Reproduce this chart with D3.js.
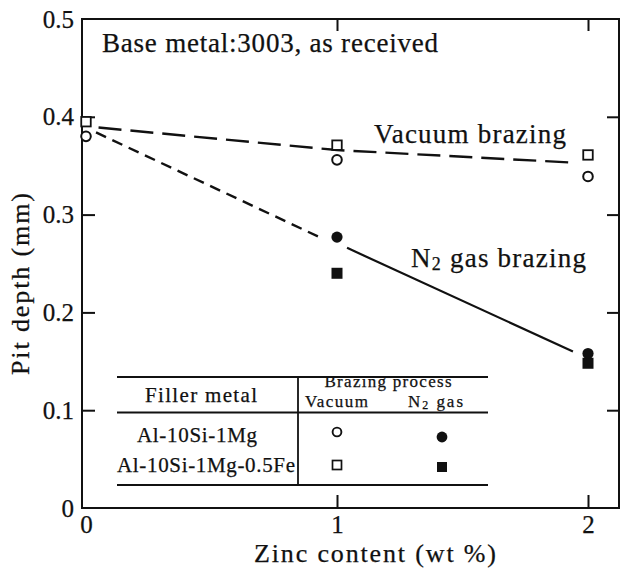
<!DOCTYPE html>
<html>
<head>
<meta charset="utf-8">
<script src="https://cdn.jsdelivr.net/npm/d3@7/dist/d3.min.js"></script>
<style>
  html, body { margin: 0; padding: 0; background: #fff; }
  svg { display: block; }
  text { font-family: "Liberation Serif", "Times New Roman", serif; fill: #111; stroke: #111; stroke-width: 0.25px; }
</style>
</head>
<body>
<svg id="chart" width="622" height="570"></svg>
<script>
// Zinc content of the filler (wt %)
const zinc = [0, 1, 2];

// Pit depth (mm) for each filler metal / brazing process
const vacuumAlSiMg   = [0.380, 0.356, 0.339];   // open circle
const vacuumAlSiMgFe = [0.395, 0.371, 0.361];   // open square
const n2AlSiMg       = [null, 0.277, 0.158];    // filled circle
const n2AlSiMgFe     = [null, 0.240, 0.148];    // filled square

// Trend lines (zinc, pit depth)
const vacuumLineX = [0.05, 1, 1.95];
const vacuumLineY = [0.389, 0.366, 0.353];
const n2DashX = [0.04, 0.93];
const n2DashY = [0.384, 0.277];
const n2SolidX = [1.04, 1.94];
const n2SolidY = [0.266, 0.160];

// Axis ticks
const xTicks = [0, 1, 2];
const yTicks = [0, 0.1, 0.2, 0.3, 0.4, 0.5];

// Legend table
const fillerMetals = ["Al-10Si-1Mg", "Al-10Si-1Mg-0.5Fe"];

const svg = d3.select("#chart");
const frame = { left: 82, right: 619, top: 19, bottom: 508 };

const x = d3.scaleLinear().domain([0, 2]).range([86, 588]);
const y = d3.scaleLinear().domain([0, 0.5]).range([508, 19]);

const ink = "#111";

// Frame
svg.append("rect")
  .attr("x", frame.left).attr("y", frame.top)
  .attr("width", frame.right - frame.left)
  .attr("height", frame.bottom - frame.top)
  .attr("fill", "none").attr("stroke", ink).attr("stroke-width", 2);

function styleAxis(g, keepLabels) {
  g.select(".domain").remove();
  g.selectAll(".tick line").attr("stroke", ink).attr("stroke-width", 2);
  g.selectAll(".tick text")
    .style("font-family", '"Liberation Serif", serif')
    .style("font-size", "25px").attr("fill", ink);
  if (!keepLabels) g.selectAll(".tick text").remove();
}

// Left axis with labels
const gl = svg.append("g").attr("transform", `translate(${frame.left},0)`)
  .call(d3.axisLeft(y).tickValues(yTicks).tickSize(-13).tickPadding(8)
    .tickFormat(d => d === 0 ? "0" : d3.format(".1f")(d)));
styleAxis(gl, true);
gl.selectAll(".tick").filter(d => d === 0 || d === 0.5).select("line").remove();

// Right axis ticks
const gr = svg.append("g").attr("transform", `translate(${frame.right},0)`)
  .call(d3.axisRight(y).tickValues(yTicks.filter(d => d > 0 && d < 0.5)).tickSize(-12));
styleAxis(gr, false);

// Bottom axis with labels
const gb = svg.append("g").attr("transform", `translate(0,${frame.bottom})`)
  .call(d3.axisBottom(x).tickValues(xTicks).tickSize(-13).tickPadding(7).tickFormat(d3.format("d")));
styleAxis(gb, true);
gb.selectAll(".tick").filter(d => d === 0).select("line").remove();

// Top axis ticks
const gt = svg.append("g").attr("transform", `translate(0,${frame.top})`)
  .call(d3.axisTop(x).tickValues(xTicks.filter(d => d > 0)).tickSize(-12));
styleAxis(gt, false);

// Axis titles
svg.append("text")
  .attr("transform", "translate(29,284) rotate(-90)")
  .attr("text-anchor", "middle")
  .attr("textLength", 182).attr("lengthAdjust", "spacing")
  .style("font-size", "26px")
  .text("Pit depth (mm)");

svg.append("text")
  .attr("x", 375).attr("y", 562)
  .attr("text-anchor", "middle")
  .attr("textLength", 242).attr("lengthAdjust", "spacing")
  .style("font-size", "26px")
  .text("Zinc content (wt %)");

// Trend lines
const line = d3.line().x(d => x(d[0])).y(d => y(d[1]));
svg.append("path")
  .attr("d", line(d3.zip(vacuumLineX, vacuumLineY)))
  .attr("fill", "none").attr("stroke", ink).attr("stroke-width", 2.4)
  .attr("stroke-dasharray", "23,9");
svg.append("path")
  .attr("d", line(d3.zip(n2DashX, n2DashY)))
  .attr("fill", "none").attr("stroke", ink).attr("stroke-width", 2.4)
  .attr("stroke-dasharray", "11,7");
svg.append("path")
  .attr("d", line(d3.zip(n2SolidX, n2SolidY)))
  .attr("fill", "none").attr("stroke", ink).attr("stroke-width", 2.2);

// Markers
function circles(vals, filled, r) {
  svg.append("g").selectAll("circle")
    .data(zinc.map((z, i) => [z, vals[i]]).filter(d => d[1] != null))
    .join("circle")
    .attr("cx", d => x(d[0])).attr("cy", d => y(d[1])).attr("r", r)
    .attr("fill", filled ? ink : "#fff")
    .attr("stroke", ink).attr("stroke-width", filled ? 0 : 2);
}
function squares(vals, filled, s) {
  svg.append("g").selectAll("rect")
    .data(zinc.map((z, i) => [z, vals[i]]).filter(d => d[1] != null))
    .join("rect")
    .attr("x", d => x(d[0]) - s / 2).attr("y", d => y(d[1]) - s / 2)
    .attr("width", s).attr("height", s)
    .attr("fill", filled ? ink : "#fff")
    .attr("stroke", ink).attr("stroke-width", filled ? 0 : 1.8);
}
squares(n2AlSiMgFe, true, 11);
circles(n2AlSiMg, true, 5.6);
squares(vacuumAlSiMgFe, false, 9.5);
circles(vacuumAlSiMg, false, 4.8);

// Annotations
svg.append("text")
  .attr("x", 102).attr("y", 52)
  .attr("textLength", 336).attr("lengthAdjust", "spacing")
  .style("font-size", "27px")
  .text("Base metal:3003, as received");

svg.append("text")
  .attr("x", 374).attr("y", 143)
  .attr("textLength", 192).attr("lengthAdjust", "spacing")
  .style("font-size", "27px")
  .text("Vacuum brazing");

const n2Label = svg.append("text")
  .attr("x", 411).attr("y", 267)
  .attr("textLength", 175).attr("lengthAdjust", "spacing")
  .style("font-size", "27px");
n2Label.append("tspan").text("N");
n2Label.append("tspan").attr("dy", 3).style("font-size", "18px").text("2");
n2Label.append("tspan").attr("dy", -3).text(" gas brazing");

// Legend table
const lg = svg.append("g");
const rule = (x1, x2, yy) => lg.append("line")
  .attr("x1", x1).attr("x2", x2).attr("y1", yy).attr("y2", yy)
  .attr("stroke", ink).attr("stroke-width", 2);
rule(117, 488, 377);
rule(117, 488, 412.5);
rule(117, 488, 485);
lg.append("line").attr("x1", 298).attr("x2", 298).attr("y1", 377).attr("y2", 485)
  .attr("stroke", ink).attr("stroke-width", 1.8);

lg.append("text").attr("x", 201).attr("y", 402).attr("text-anchor", "middle")
  .attr("textLength", 112).attr("lengthAdjust", "spacing")
  .style("font-size", "21px").text("Filler metal");
lg.append("text").attr("x", 388).attr("y", 387).attr("text-anchor", "middle")
  .attr("textLength", 127).attr("lengthAdjust", "spacing")
  .style("font-size", "17px").text("Brazing process");
lg.append("text").attr("x", 305).attr("y", 407)
  .attr("textLength", 63).attr("lengthAdjust", "spacing")
  .style("font-size", "17px").text("Vacuum");
const n2Head = lg.append("text").attr("x", 408).attr("y", 407)
  .attr("textLength", 55).attr("lengthAdjust", "spacing")
  .style("font-size", "17px");
n2Head.append("tspan").text("N");
n2Head.append("tspan").attr("dy", 2).style("font-size", "12px").text("2");
n2Head.append("tspan").attr("dy", -2).text(" gas");

const rowCenters = [197, 206];
const rowWidths = [120, 178];
const rowBase = [442, 472];
fillerMetals.forEach((name, i) => {
  lg.append("text").attr("x", rowCenters[i]).attr("y", rowBase[i])
    .attr("text-anchor", "middle")
    .attr("textLength", rowWidths[i]).attr("lengthAdjust", "spacing")
    .style("font-size", "21px").text(name);
});

// Legend symbols
lg.append("circle").attr("cx", 337).attr("cy", 432).attr("r", 4.4)
  .attr("fill", "#fff").attr("stroke", ink).attr("stroke-width", 1.9);
lg.append("circle").attr("cx", 442).attr("cy", 437).attr("r", 5.4).attr("fill", ink);
lg.append("rect").attr("x", 337 - 4.5).attr("y", 465 - 4.5).attr("width", 9).attr("height", 9)
  .attr("fill", "#fff").attr("stroke", ink).attr("stroke-width", 1.7);
lg.append("rect").attr("x", 442 - 5).attr("y", 467 - 5).attr("width", 10).attr("height", 10)
  .attr("fill", ink);
</script>
</body>
</html>
